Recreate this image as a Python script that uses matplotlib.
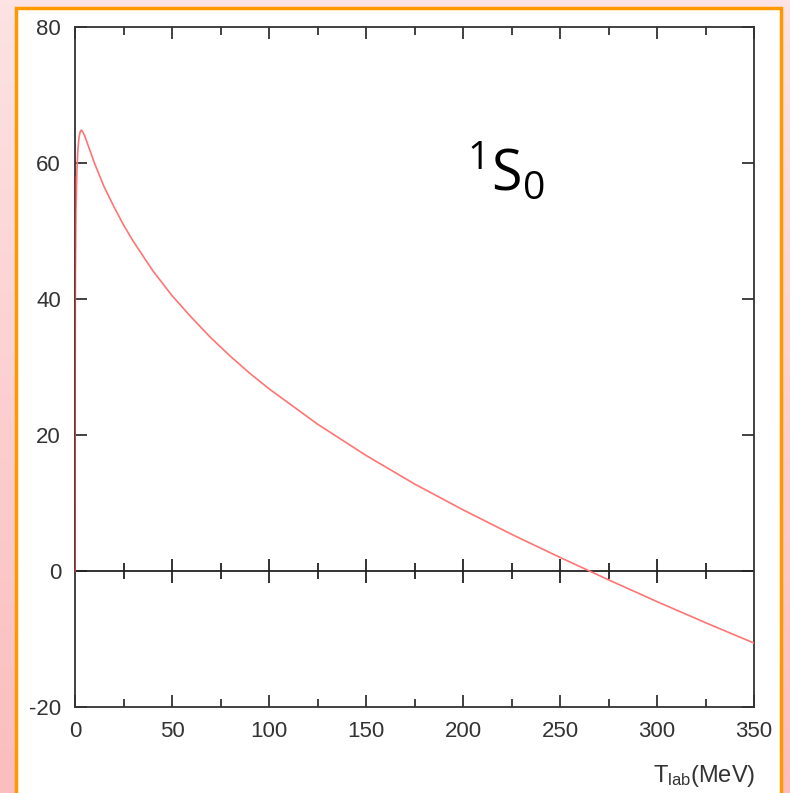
import numpy as np
import matplotlib
matplotlib.use("Agg")
import matplotlib.pyplot as plt
from matplotlib.patches import Rectangle
from matplotlib.colors import LinearSegmentedColormap

# Data (1S0 phase shift, degrees vs T_lab in MeV)
t_lab = [0, 0.05, 0.2, 0.5, 1, 1.5, 2, 2.5, 3, 3.5, 4, 5, 7, 10, 15, 20, 25, 30, 40, 50,
         60, 70, 80, 90, 100, 125, 150, 175, 200, 225, 250, 275, 300, 325, 350]
delta = [0, 25, 43, 53, 59, 62.0, 63.6, 64.4, 64.8, 64.8, 64.6, 64.0, 62.4, 60.0, 56.5,
         53.6, 50.9, 48.5, 44.2, 40.5, 37.3, 34.3, 31.6, 29.1, 26.8, 21.6, 17.0, 12.8,
         9.0, 5.4, 2.0, -1.3, -4.5, -7.6, -10.6]
x_major = [0, 50, 100, 150, 200, 250, 300, 350]
x_minor = [25, 75, 125, 175, 225, 275, 325]
y_major = [-20, 0, 20, 40, 60, 80]

plt.rcParams["axes.unicode_minus"] = False
plt.rcParams["mathtext.default"] = "regular"

W, H = 790, 793
fig = plt.figure(figsize=(W / 100, H / 100), dpi=100)

# pink gradient background
bg = fig.add_axes([0, 0, 1, 1], zorder=-10)
grad = np.linspace(0, 1, 256).reshape(-1, 1)
cmap = LinearSegmentedColormap.from_list("pk", ["#fde3e3", "#fbbdbd"])
bg.imshow(grad, aspect="auto", cmap=cmap, extent=[0, 1, 0, 1], origin="upper")
bg.set_axis_off()

# white panel with orange border
fig.patches.append(Rectangle((16 / W, -0.05), (781 - 16) / W, 1.05 - 8 / H,
                             transform=fig.transFigure, facecolor="white",
                             edgecolor="#ff9900", linewidth=2.5, zorder=-5))

ax = fig.add_axes([75 / W, 1 - 707 / H, (754 - 75) / W, (707 - 27) / H])
ax.set_facecolor("none")
ax.plot(t_lab, delta, color="#ff7474", linewidth=1.2, zorder=3)
ax.plot([0, 0], [0, 58], color="#d83030", linewidth=1.3, zorder=4)

ax.set_xlim(0, 350)
ax.set_ylim(-20, 80)
ax.set_xticks(x_major)
ax.set_xticks(x_minor, minor=True)
ax.set_yticks(y_major)

for s in ax.spines.values():
    s.set_color("#333333")
    s.set_linewidth(1.3)

ax.tick_params(axis="both", which="major", direction="in", length=8.6, width=1.3,
               color="#333333", labelcolor="#333333", top=True, right=True)
ax.tick_params(axis="x", which="minor", direction="in", length=5.8, width=1.3,
               color="#333333", top=True)
ax.tick_params(axis="x", pad=10)
ax.tick_params(axis="y", pad=10)
for lab in ax.get_xticklabels() + ax.get_yticklabels():
    lab.set_fontfamily("Liberation Sans")
    lab.set_fontsize(16)

# zero axis with crossing ticks
ax.axhline(0, color="#222222", linewidth=1.3, zorder=2)
ax.plot(x_major[1:-1], [0] * (len(x_major) - 2), linestyle="none", marker="|",
        markersize=17, markeredgewidth=1.3, color="#222222", zorder=2)
ax.plot(x_minor, [0] * len(x_minor), linestyle="none", marker="|",
        markersize=11.5, markeredgewidth=1.3, color="#222222", zorder=2)

fig.text(755 / W, 1 - 776 / H, r"T$_{lab}$(MeV)", ha="right", va="center",
         fontfamily="Liberation Sans", fontsize=17, color="#333333")

ax.text(0.635, 0.785, r"$^{1}$S$_{0}$", transform=ax.transAxes, ha="center", va="center",
        fontfamily="Open Sans", fontsize=40, color="black")

fig.savefig("out.png", dpi=100)
